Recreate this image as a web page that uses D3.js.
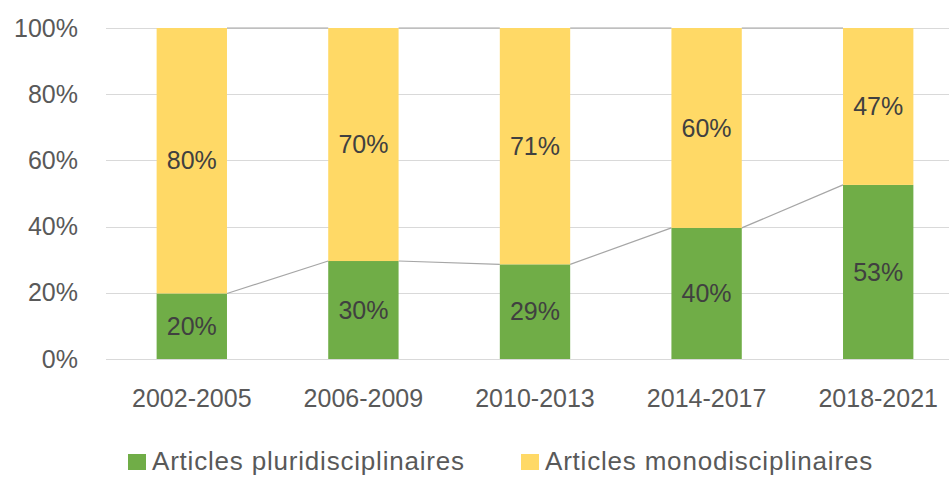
<!DOCTYPE html>
<html>
<head>
<meta charset="utf-8">
<script src="https://cdn.jsdelivr.net/npm/d3@7"></script>
<style>
  body { margin: 0; background: #fff; }
  svg { display: block; font-family: "Liberation Sans", Arial, sans-serif; }
</style>
</head>
<body>
<svg width="949" height="477"></svg>
<script>
'use strict';

// data
const periods = ["2002-2005", "2006-2009", "2010-2013", "2014-2017", "2018-2021"];
const pluri = [19.8, 29.6, 28.6, 39.6, 52.6];   // Articles pluridisciplinaires
const mono  = [80.2, 70.4, 71.4, 60.4, 47.4];   // Articles monodisciplinaires
const yTicks = [0, 20, 40, 60, 80, 100];
const seriesNames = ["Articles pluridisciplinaires", "Articles monodisciplinaires"];
const colors = ["#70AD47", "#FFD966"];

const svg = d3.select("svg");
const margin = {top: 28, left: 106, bottom: 118};
const plotRight = 964;
const height = +svg.attr("height");

const x = d3.scaleBand().domain(periods).range([margin.left, plotRight]).paddingInner(0.59).paddingOuter(0.295);
const y = d3.scaleLinear().domain([0, 100]).range([height - margin.bottom, margin.top]);

// stacked rows
const rows = periods.map((p, i) => ({period: p, pluri: pluri[i], mono: mono[i]}));
const stack = d3.stack().keys(["pluri", "mono"]);
const layers = stack(rows);

// gridlines
svg.append("g").selectAll("line")
  .data(yTicks)
  .join("line")
    .attr("x1", margin.left).attr("x2", plotRight)
    .attr("y1", d => Math.round(y(d)) + 0.5).attr("y2", d => Math.round(y(d)) + 0.5)
    .attr("stroke", "#d9d9d9").attr("stroke-width", 1);

// y axis labels
const yAxis = d3.axisLeft(y).tickValues(yTicks).tickFormat(d => d + "%").tickSize(0).tickPadding(28);
const gy = svg.append("g").attr("transform", "translate(" + margin.left + ",0)").call(yAxis);
gy.select(".domain").remove();
gy.selectAll("text").attr("fill", "#595959").style("font-size", "25px").attr("font-family", null);

// x axis labels
const xAxis = d3.axisBottom(x).tickSize(0).tickPadding(30);
const gx = svg.append("g").attr("transform", "translate(0," + y(0) + ")").call(xAxis);
gx.select(".domain").remove();
gx.selectAll("text").attr("fill", "#595959").style("font-size", "25px").attr("font-family", null);

// series lines (connect tops of each segment between bars)
layers.forEach(layer => {
  const segs = [];
  for (let i = 0; i < layer.length - 1; i++) {
    segs.push([[x(periods[i]) + x.bandwidth(), y(layer[i][1])], [x(periods[i + 1]), y(layer[i + 1][1])]]);
  }
  svg.append("g").selectAll("path")
    .data(segs)
    .join("path")
      .attr("d", d3.line())
      .attr("fill", "none")
      .attr("stroke", "#a6a6a6")
      .attr("stroke-width", 1.2);
});

// bars
const gBars = svg.append("g");
layers.forEach((layer, k) => {
  gBars.append("g").attr("fill", colors[k])
    .selectAll("rect")
    .data(layer)
    .join("rect")
      .attr("x", d => x(d.data.period))
      .attr("width", x.bandwidth())
      .attr("y", d => y(d[1]))
      .attr("height", d => y(d[0]) - y(d[1]));

  gBars.append("g")
    .selectAll("text")
    .data(layer)
    .join("text")
      .attr("x", d => x(d.data.period) + x.bandwidth() / 2)
      .attr("y", d => (y(d[0]) + y(d[1])) / 2)
      .attr("text-anchor", "middle")
      .attr("dy", "0.35em")
      .attr("fill", "#404040")
      .style("font-size", "25px")
      .text(d => d3.format(".0f")(d[1] - d[0]) + "%");
});

// legend (kept a few px above the bottom edge so descenders aren't clipped)
const legendX = [128, 521];
const legend = svg.append("g");
seriesNames.forEach((name, k) => {
  legend.append("rect")
    .attr("x", legendX[k]).attr("y", 454)
    .attr("width", 18).attr("height", 16)
    .attr("fill", colors[k]);
  legend.append("text")
    .attr("x", legendX[k] + 24).attr("y", 461)
    .attr("dy", "0.35em")
    .attr("fill", "#595959")
    .style("font-size", "26px")
    .style("letter-spacing", "0.8px")
    .text(name);
});
</script>
</body>
</html>
